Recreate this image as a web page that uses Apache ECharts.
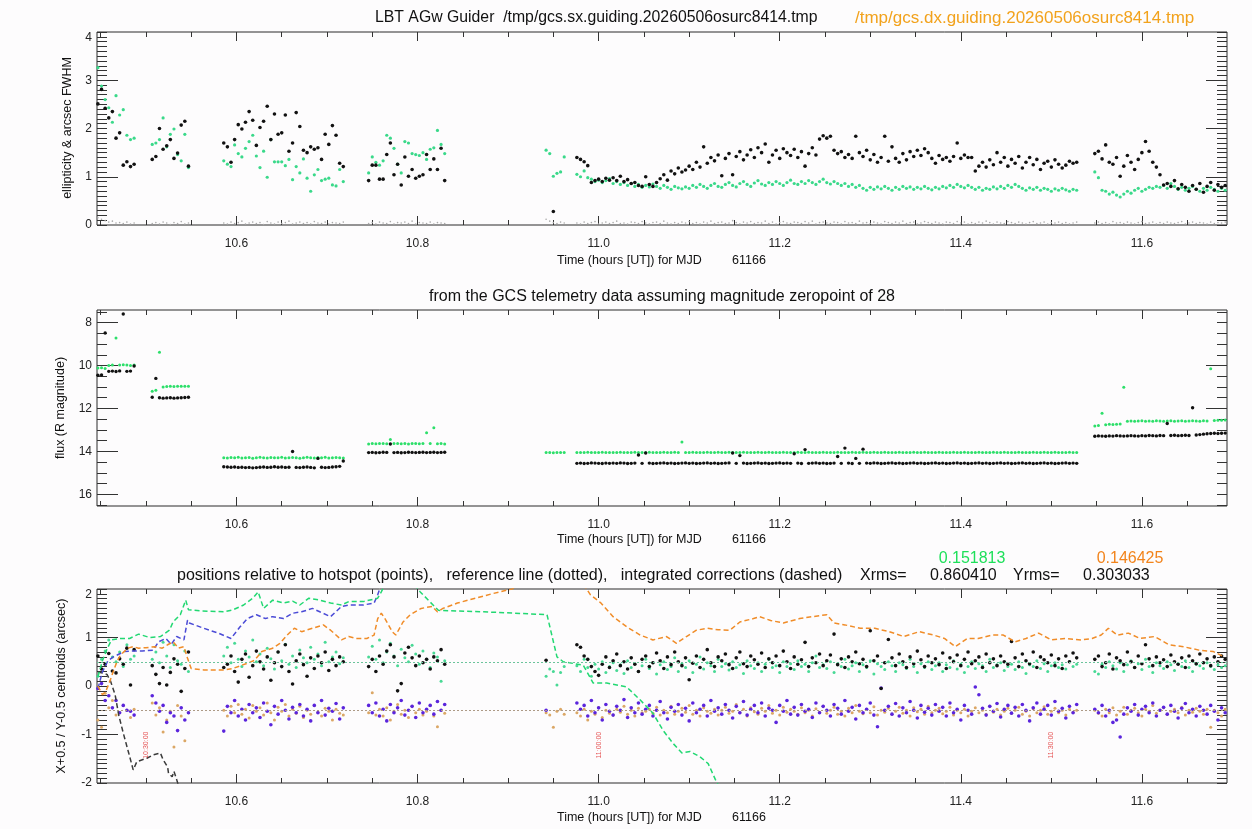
<!DOCTYPE html>
<html><head><meta charset="utf-8">
<script src="https://cdn.jsdelivr.net/npm/echarts@6/dist/echarts.min.js"></script>
<style>html,body{margin:0;padding:0;background:#fdfcfd}#c{width:1252px;height:829px}</style>
</head><body><div id="c"></div>
<script>
// ---------------- DATA ----------------
// frame times (hours UT), grouped by observing segment
const frameTimes = [
 [10.447,10.451,10.455,10.459,10.463,10.467,10.471,10.475,10.479,10.483,10.487],
 [10.507,10.511,10.515,10.519,10.523,10.527,10.531,10.535,10.539,10.543,10.547],
 [10.586,10.590,10.594,10.598,10.602,10.606,10.610,10.614,10.618,10.622,10.626,10.630,10.634,10.638,10.642,10.646,10.650,10.654,10.658,10.662,10.666,10.670,10.674,10.678,10.682,10.686,10.690,10.694,10.698,10.702,10.706,10.710,10.714,10.718],
 [10.746,10.750,10.754,10.758,10.762,10.766,10.770,10.774,10.778,10.782,10.786,10.790,10.794,10.798,10.802,10.806,10.810,10.814,10.818,10.822,10.826,10.830],
 [10.942,10.946,10.950,10.954,10.958,10.962],
 [10.976,10.980,10.984,10.988,10.992,10.996,11.000,11.004,11.008,11.012,11.016,11.020,11.024,11.028,11.032,11.036,11.040,11.044,11.048,11.052,
  11.056,11.060,11.064,11.068,11.072,11.076,11.080,11.084,11.088,11.092,11.096,11.100,11.104,11.108,11.112,11.116,11.120,11.124,11.128,11.132,
  11.136,11.140,11.144,11.148,11.152,11.156,11.160,11.164,11.168,11.172,11.176,11.180,11.184,11.188,11.192,11.196,11.200,11.204,11.208,11.212,
  11.216,11.220,11.224,11.228,11.232,11.236,11.240,11.244,11.248,11.252,11.256,11.260,11.264,11.268,11.272,11.276,11.280,11.284,11.288,11.292,
  11.296,11.300,11.304,11.308,11.312,11.316,11.320,11.324,11.328,11.332,11.336,11.340,11.344,11.348,11.352,11.356,11.360,11.364,11.368,11.372,
  11.376,11.380,11.384,11.388,11.392,11.396,11.400,11.404,11.408,11.412,11.416,11.420,11.424,11.428,11.432,11.436,11.440,11.444,11.448,11.452,
  11.456,11.460,11.464,11.468,11.472,11.476,11.480,11.484,11.488,11.492,11.496,11.500,11.504,11.508,11.512,11.516,11.520,11.524,11.528],
 [11.548,11.552,11.556,11.560,11.564,11.568,11.572,11.576,11.580,11.584,11.588,11.592,11.596,11.600,11.604,11.608,11.612,11.616,11.620,11.624,
  11.628,11.632,11.636,11.640,11.644,11.648,11.652,11.656,11.660,11.664,11.668,11.672,11.676,11.680,11.684,11.688,11.692]
];

// Panel 1: FWHM (arcsec) sx (black) and dx (green); ellipticity (small grey)
const fwhmSx = [
 [2.51,2.81,2.42,2.22,2.35,1.80,1.91,1.24,1.31,1.21,1.26],
 [1.36,1.42,2.00,1.57,1.64,1.77,1.38,1.49,2.07,2.15,1.22],
 [1.70,1.62,1.30,1.77,2.08,1.99,2.13,2.35,2.17,1.65,2.02,2.15,2.46,1.77,2.30,1.88,1.91,2.28,1.53,1.70,2.33,2.04,1.55,1.50,1.62,1.57,1.60,1.36,1.88,1.67,2.06,1.86,1.28,1.21],
 [0.92,1.24,1.24,0.95,0.95,1.46,1.70,1.04,1.26,0.83,1.41,1.01,1.15,0.97,1.01,1.04,1.46,1.15,1.37,1.15,1.59,0.92],
 [null,null,0.28,null,null,null],
 [1.40,1.36,1.31,1.23,0.88,0.92,0.95,0.90,0.97,0.93, 0.98,0.92,1.01,0.90,0.94,0.86,0.88,0.82,0.80,1.00,
  0.84,0.80,0.88,0.96,1.04,0.93,1.12,1.06,1.18,1.10, 1.14,1.22,1.15,1.30,1.20,1.62,1.28,1.40,1.33,1.45,
  1.02,1.38,1.48,1.04,1.42,1.52,1.35,1.45,1.56,1.40, 1.60,1.50,1.68,1.30,1.45,1.55,1.38,1.58,1.50,1.44,
  1.57,1.40,1.52,1.22,1.48,1.60,1.45,1.78,1.85,1.80, 1.84,1.55,1.48,1.52,1.40,1.46,1.38,1.84,1.50,1.42,
  1.55,1.35,1.46,1.30,1.40,1.84,1.32,1.62,1.38,1.30, 1.48,1.35,1.52,1.42,1.55,1.44,1.58,1.50,1.38,1.28,
  1.44,1.36,1.40,1.32,1.42,1.70,1.38,1.45,1.40,1.40, 1.12,1.22,1.30,1.20,1.35,1.25,1.50,1.30,1.40,1.22,
  1.36,1.28,1.42,1.18,1.30,1.40,1.25,1.36,1.15,1.28, 1.32,1.20,1.35,1.26,1.18,1.24,1.32,1.28,1.30],
 [1.48,1.53,1.37,1.66,1.30,1.26,1.40,1.01,1.22,1.44, 1.30,1.15,1.36,1.50,1.73,1.53,1.30,1.20,1.04,0.83,
  0.86,0.80,0.92,0.75,0.84,0.78,0.70,0.82,0.74,0.86, 0.68,0.80,0.88,0.72,0.84,0.78,0.82]
];
const fwhmDx = [
 [3.26,2.88,2.60,2.43,2.13,2.68,2.28,2.39,1.86,1.77,1.80],
 [1.67,1.70,1.77,2.22,1.62,1.88,1.99,1.46,1.33,1.88,1.19],
 [1.33,1.26,1.21,1.66,1.48,1.41,1.59,1.73,1.86,1.43,1.19,1.53,0.99,1.77,1.31,1.31,1.31,1.23,1.36,0.94,1.21,1.08,1.37,0.97,0.70,1.04,1.15,0.92,0.95,0.97,0.83,0.81,1.15,0.90],
 [1.08,1.41,1.30,1.24,1.33,1.86,1.80,1.59,1.26,1.08,1.73,1.70,1.48,1.46,1.44,1.50,1.36,1.57,1.60,1.96,1.67,1.48],
 [1.55,1.48,1.01,1.07,1.10,1.41],
 [1.05,1.00,1.12,0.98,0.95,0.90,0.93,0.88,0.92,0.96, 0.86,0.90,0.84,0.88,0.82,0.86,0.80,0.84,0.78,0.82,
  0.79,0.85,0.80,0.76,0.82,0.78,0.74,0.80,0.77,0.75, 0.79,0.76,0.82,0.78,0.84,0.80,0.76,0.82,0.86,0.80,
  0.78,0.84,0.88,0.82,0.79,0.86,0.90,0.84,0.80,0.87, 0.92,0.85,0.82,0.88,0.84,0.90,0.86,0.82,0.88,0.93,
  0.86,0.84,0.90,0.86,0.92,0.88,0.84,0.90,0.95,0.88, 0.85,0.90,0.86,0.82,0.86,0.80,0.84,0.78,0.82,0.76,
  0.72,0.78,0.74,0.79,0.75,0.80,0.76,0.72,0.78,0.74, 0.80,0.76,0.79,0.74,0.78,0.75,0.80,0.76,0.73,0.78,
  0.75,0.80,0.77,0.82,0.78,0.84,0.80,0.77,0.82,0.78, 0.74,0.78,0.72,0.76,0.74,0.79,0.75,0.80,0.76,0.82,
  0.78,0.84,0.80,0.76,0.72,0.77,0.74,0.78,0.72,0.76, 0.74,0.70,0.75,0.72,0.76,0.73,0.70,0.74,0.72],
 [1.10,0.98,0.72,0.70,0.64,0.68,0.62,0.58,0.64,0.70, 0.66,0.72,0.76,0.70,0.74,0.78,0.76,0.80,0.78,0.82,
  0.76,0.86,0.80,0.74,0.78,0.72,0.76,0.80,0.74,0.70, 0.76,0.72,0.78,0.74,0.70,0.76,0.72]
];
const ellipticity = [
 [0.15,0.12,0.09,0.06,0.08,0.04,0.05,0.03,0.06,0.02,0.04],
 [0.03,0.05,0.02,0.06,0.04,0.01,0.05,0.03,0.07,0.02,0.04],
 [0.04,0.02,0.06,0.03,0.05,0.08,0.02,0.04,0.06,0.03,0.05,0.01,0.07,0.04,0.02,0.06,0.03,0.05,0.08,0.02,0.04,0.06,0.03,0.05,0.02,0.07,0.04,0.03,0.06,0.02,0.05,0.04,0.03,0.06],
 [0.03,0.05,0.02,0.06,0.04,0.03,0.07,0.02,0.05,0.04,0.06,0.03,0.08,0.02,0.05,0.04,0.03,0.06,0.02,0.05,0.04,0.03],
 [0.12,0.08,0.05,0.03,0.06,0.04],
 [0.04,0.02,0.06,0.03,0.05,0.07,0.02,0.04,0.06,0.03, 0.05,0.08,0.03,0.04,0.02,0.06,0.05,0.03,0.07,0.04,
  0.02,0.05,0.06,0.03,0.08,0.04,0.02,0.05,0.03,0.06, 0.04,0.07,0.03,0.05,0.02,0.06,0.04,0.08,0.03,0.05,
  0.06,0.03,0.04,0.09,0.05,0.02,0.06,0.04,0.07,0.03, 0.05,0.04,0.08,0.03,0.06,0.02,0.05,0.07,0.04,0.03,
  0.06,0.05,0.03,0.07,0.04,0.08,0.02,0.05,0.06,0.04, 0.03,0.06,0.05,0.02,0.07,0.04,0.05,0.03,0.08,0.04,
  0.05,0.03,0.06,0.04,0.02,0.07,0.05,0.03,0.06,0.04, 0.08,0.03,0.05,0.06,0.02,0.04,0.07,0.05,0.03,0.06,
  0.04,0.02,0.06,0.05,0.03,0.07,0.04,0.06,0.02,0.05, 0.03,0.06,0.04,0.08,0.05,0.02,0.06,0.04,0.03,0.07,
  0.05,0.03,0.06,0.04,0.02,0.05,0.07,0.03,0.04,0.06, 0.02,0.05,0.04,0.06,0.03,0.05,0.02,0.04,0.06],
 [0.04,0.06,0.03,0.05,0.02,0.07,0.04,0.05,0.03,0.06, 0.04,0.02,0.05,0.07,0.03,0.04,0.06,0.02,0.05,0.03,
  0.06,0.04,0.03,0.05,0.07,0.02,0.04,0.06,0.03,0.05, 0.04,0.02,0.06,0.03,0.05,0.04,0.06]
];

// Panel 2: R magnitude, sx (black) and dx (green)
const magSx = [
 [10.45,10.44,8.48,10.27,10.26,10.28,10.25,7.60,10.27,10.26,10.02],
 [11.48,10.60,11.50,11.52,11.51,11.50,11.52,11.51,11.50,11.49,11.48],
 [14.72,14.73,14.74,14.73,14.75,14.74,14.76,14.75,14.77,14.76,14.74,14.73,14.75,14.74,14.72,14.74,14.73,14.75,14.74,14.01,14.75,14.76,14.74,14.73,14.75,14.77,14.33,14.74,14.76,14.75,14.73,14.72,14.70,14.45],
 [14.06,14.05,14.07,14.06,14.04,14.05,13.66,14.06,14.05,14.07,14.06,14.04,14.05,14.06,14.05,14.04,14.06,14.05,14.04,14.06,14.05,14.04],
 [null,null,null,null,null,null],
 [14.56,14.55,14.57,14.56,14.54,14.55,14.56,14.57,14.55,14.56, 14.55,14.56,14.54,14.55,14.57,14.56,14.55,14.17,14.56,14.08,
  14.55,14.57,14.56,14.55,14.54,14.56,14.55,14.57,14.56,14.55, 14.54,14.56,14.55,14.57,14.56,14.55,14.54,14.56,14.55,14.57,
  14.56,14.55,14.54,14.08,14.56,14.20,14.55,14.57,14.56,14.55, 14.54,14.56,14.55,14.57,14.56,14.55,14.54,14.56,14.55,14.56,
  14.11,14.55,14.57,13.92,14.56,14.55,14.54,14.56,14.55,14.57, 14.56,14.55,14.24,14.56,13.85,14.55,14.57,14.33,14.56,13.90,
  14.55,14.56,14.54,14.55,14.57,14.56,14.55,14.54,14.56,14.55, 14.57,14.56,14.55,14.54,14.56,14.55,14.57,14.56,14.55,14.54,
  14.56,14.55,14.57,14.56,14.55,14.54,14.56,14.55,14.57,14.56, 14.55,14.54,14.56,14.55,14.57,14.56,14.55,14.54,14.56,14.55,
  14.57,14.56,14.55,14.54,14.56,14.55,14.57,14.56,14.55,14.54, 14.56,14.55,14.57,14.56,14.55,14.54,14.56,14.55,14.56],
 [13.30,13.28,13.29,13.30,13.28,13.29,13.27,13.28,13.29,13.28, 13.27,13.28,13.29,13.27,13.28,13.26,13.27,13.28,13.26,13.27,
  12.70,13.26,13.25,13.27,13.26,13.25,13.26,11.97,13.24,13.22, 13.20,13.18,13.17,13.16,13.17,13.16,13.15]
];
const magDx = [
 [10.12,10.10,10.14,10.00,9.98,8.71,9.98,9.96,9.98,10.00,9.98],
 [11.20,11.15,9.38,11.00,10.98,10.97,10.98,10.96,10.97,10.96,10.97],
 [14.30,14.31,14.29,14.30,14.28,14.31,14.30,14.29,14.32,14.30,14.28,14.30,14.31,14.29,14.30,14.30,14.28,14.31,14.30,14.29,14.30,14.32,14.30,14.28,14.30,14.31,14.29,14.30,14.28,14.31,14.30,14.29,14.30,14.31],
 [13.66,13.64,13.65,13.63,13.64,13.65,13.45,13.64,13.63,13.65,13.64,13.66,13.63,13.64,13.65,13.64,13.13,13.64,12.90,13.65,13.64,13.66],
 [14.06,14.05,14.07,14.06,14.05,14.06],
 [14.06,14.05,14.06,14.04,14.05,14.06,14.05,14.04,14.06,14.05, 14.05,14.06,14.04,14.05,14.06,14.05,14.04,14.05,14.06,14.05,
  14.04,14.06,14.05,14.05,14.04,14.06,14.05,14.04,14.06,13.57, 14.05,14.06,14.04,14.05,14.06,14.05,14.04,14.06,14.05,14.04,
  14.06,14.05,14.04,14.05,14.06,14.05,14.04,14.06,14.05,14.05, 14.04,14.06,14.05,14.04,14.06,14.05,14.05,14.04,14.06,14.05,
  14.05,14.04,14.06,14.05,14.04,14.06,14.05,14.05,14.04,14.06, 14.05,14.06,14.04,14.05,14.06,14.05,14.04,14.05,14.06,14.04,
  14.06,14.05,14.04,14.06,14.05,14.04,14.05,14.06,14.05,14.04, 14.05,14.06,14.05,14.04,14.06,14.05,14.04,14.05,14.06,14.05,
  14.04,14.05,14.06,14.05,14.04,14.06,14.05,14.04,14.05,14.06, 14.05,14.04,14.06,14.05,14.05,14.04,14.06,14.05,14.04,14.06,
  14.05,14.06,14.04,14.05,14.06,14.05,14.04,14.06,14.05,14.04, 14.06,14.05,14.04,14.05,14.06,14.05,14.04,14.06,14.05],
 [12.82,12.80,12.23,12.76,12.74,12.75,12.74,12.73,11.01,12.60, 12.59,12.60,12.59,12.58,12.60,12.59,12.60,12.58,12.59,12.60,
  12.59,12.58,12.60,12.59,12.58,12.60,12.59,12.58,12.59,12.60, 12.58,12.59,10.15,12.56,12.55,12.55,12.54]
];

// Panel 3: centroid positions (arcsec): X+0.5 sx (black), X+0.5 dx (green), Y-0.5 sx (purple), Y-0.5 dx (tan)
const xSx = [
 [0.62,0.35,0.45,0.67,0.31,0.27,0.56,0.45,0.78,0.02,0.75],
 [0.42,0.24,0.05,0.38,0.02,0.28,0.56,0.45,-0.11,0.36,0.70],
 [0.38,0.45,0.62,0.30,0.08,0.55,0.66,0.18,0.42,0.72,0.50,0.35,0.60,0.12,0.48,0.70,0.40,0.85,0.30,0.04,0.52,0.66,0.44,0.20,0.58,0.36,0.62,0.48,0.70,0.32,0.55,0.42,0.60,0.50],
 [0.40,0.55,0.30,0.62,0.45,0.72,0.85,0.60,-0.10,0.05,0.68,0.80,0.58,0.42,0.62,0.48,0.55,0.35,0.60,0.52,0.75,0.45],
 [0.53,null,null,null,null,null],
 [0.85,0.80,0.62,0.55,0.40,0.30,0.22,0.45,0.60,0.38, 0.52,0.66,0.42,0.50,0.35,0.58,0.45,0.30,0.55,0.62,
  0.40,0.48,0.68,0.52,0.36,0.60,0.44,0.70,0.50,0.42, 0.58,0.13,0.47,0.62,0.38,0.55,0.75,0.48,0.40,0.60,
  0.52,0.66,0.44,0.36,0.58,0.70,0.46,0.40,0.62,0.54, 0.45,0.68,0.38,0.56,0.48,0.62,0.42,0.72,0.50,0.36,
  0.60,0.45,0.54,0.90,0.40,0.58,0.48,0.66,0.42,0.52, 0.64,1.07,0.44,0.56,0.38,0.60,0.50,0.70,0.46,0.55,
  0.40,1.14,0.52,0.62,-0.05,0.48,0.96,0.58,0.42,0.66, 0.50,0.38,0.60,0.46,0.72,0.54,0.40,0.62,0.48,0.56,
  0.44,0.68,0.36,0.58,0.50,0.64,0.42,0.55,0.70,0.46, 0.52,0.60,0.38,0.66,0.48,0.56,0.42,0.62,0.50,0.45,
  0.92,0.58,0.40,0.66,0.52,0.46,0.70,0.38,0.60,0.54, 0.48,0.64,0.42,0.56,0.36,0.62,0.50,0.68,0.58],
 [0.55,0.62,0.40,0.48,0.66,0.35,0.58,0.52,0.44,0.70, 0.50,0.38,0.62,0.46,0.85,0.56,0.42,0.60,0.48,0.54,
  0.40,0.64,0.50,0.45,0.58,0.38,0.62,0.52,0.46,0.66, 0.48,0.56,0.42,0.60,0.50,0.62,0.55]
];
const xDx = [
 [0.20,0.55,0.72,0.95,0.60,0.50,0.70,0.40,0.85,0.55,0.62],
 [0.55,0.70,0.48,0.90,0.62,0.38,0.85,0.52,0.45,0.72,0.30],
 [0.62,0.80,0.48,0.88,0.55,0.40,0.72,0.60,0.95,0.50,0.66,0.42,0.78,0.56,0.35,0.70,0.52,0.86,0.45,0.62,0.38,0.74,0.58,0.48,0.80,0.55,0.66,0.42,0.90,0.50,0.60,0.70,0.46,0.58],
 [0.60,0.82,0.55,0.95,0.48,0.70,0.88,0.62,0.42,0.76,0.58,0.50,0.84,0.66,0.45,0.72,0.55,0.38,0.68,0.60,0.10,0.52],
 [0.20,0.35,0.30,0.02,0.28,0.40],
 [0.42,0.30,0.55,0.38,0.20,0.45,0.35,0.50,0.28,0.40, 0.48,0.32,0.44,0.26,0.52,0.38,0.46,0.30,0.42,0.55,
  0.36,0.48,0.25,0.44,0.50,0.34,0.40,0.58,0.30,0.46, 0.38,0.52,0.28,0.45,0.60,0.35,0.48,0.42,0.30,0.55,
  0.40,0.46,0.33,0.50,0.38,0.44,0.26,0.52,0.42,0.36, 0.48,0.30,0.45,0.55,0.38,0.42,0.28,0.50,0.40,0.46,
  0.34,0.52,0.40,0.45,0.30,0.48,0.62,0.38,0.44,0.36, 0.50,0.28,0.46,0.40,0.55,0.35,0.42,0.48,0.30,0.44,
  0.38,0.52,0.25,0.46,0.40,0.34,0.50,0.42,0.30,0.48, 0.44,0.36,0.55,0.40,0.28,0.46,0.38,0.50,0.34,0.42,
  0.48,0.30,0.44,0.38,0.52,0.35,0.45,0.28,0.40,0.50, 0.36,0.46,0.42,0.30,0.55,0.38,0.44,0.48,0.32,0.40,
  0.45,0.34,0.50,0.38,0.26,0.44,0.40,0.52,0.36,0.46, 0.30,0.42,0.48,0.38,0.44,0.35,0.50,0.40,0.45],
 [0.30,0.25,0.45,0.38,0.50,0.42,0.35,0.48,0.30,0.44, 0.52,0.38,0.46,0.34,0.55,0.40,0.28,0.48,0.42,0.36,
  0.50,0.44,0.32,0.46,0.40,0.52,0.38,0.30,0.45,0.42, 0.36,0.48,0.40,0.34,0.44,0.38,0.42]
];
const ySx = [
 [-0.05,0.05,-0.30,-0.20,-0.45,-0.30,-0.55,-0.40,-0.50,-0.52,-0.60],
 [-0.20,-0.35,-0.52,-0.40,-0.75,-0.55,-0.62,-0.92,-0.45,-0.70,-0.55],
 [-0.93,-0.42,-0.55,-0.30,-0.62,-0.48,-0.70,-0.38,-0.55,-0.45,-0.65,-0.35,-0.52,-0.80,-0.42,-0.58,-0.30,-0.50,-0.68,-0.44,-0.55,-0.38,-0.62,-0.48,-0.72,-0.40,-0.55,-0.30,-0.60,-0.46,-0.52,-0.36,-0.68,-0.45],
 [-0.40,-0.55,-0.35,-0.62,-0.48,-0.72,-0.38,-0.55,-0.45,-0.30,-0.60,-0.50,-0.42,-0.65,-0.35,-0.55,-0.48,-0.40,-0.58,-0.32,-0.50,-0.38],
 [-0.50,null,null,null,null,null],
 [-0.35,-0.48,-0.40,-0.62,-0.30,-0.55,-0.45,-0.70,-0.38,-0.52, -0.60,-0.42,-0.50,-0.28,-0.65,-0.45,-0.55,-0.35,-0.58,-0.48,
  -0.40,-0.62,-0.50,-0.32,-0.55,-0.68,-0.44,-0.52,-0.38,-0.60, -0.46,-0.72,-0.35,-0.55,-0.48,-0.40,-0.62,-0.30,-0.52,-0.45,
  -0.58,-0.38,-0.50,-0.66,-0.42,-0.55,-0.32,-0.60,-0.48,-0.40, -0.55,-0.35,-0.62,-0.46,-0.50,-0.75,-0.40,-0.52,-0.30,-0.58,
  -0.44,-0.60,-0.38,-0.52,-0.48,-0.65,-0.35,-0.55,-0.42,-0.50, -0.62,-0.38,-0.46,-0.58,-0.30,-0.52,-0.44,-0.68,-0.40,-0.55,
  -0.48,-0.35,-0.60,-0.84,-0.04,-0.50,-0.42,-0.58,-0.36,-0.62, -0.45,-0.55,-0.32,-0.50,-0.66,-0.40,-0.54,-0.46,-0.60,-0.38,
  -0.52,-0.44,-0.62,-0.35,-0.55,-0.48,-0.70,-0.40,-0.50,-0.58, -0.02,-0.18,-0.46,-0.60,-0.42,-0.52,-0.36,-0.64,-0.48,-0.40,
  -0.56,-0.44,-0.62,-0.38,-0.50,-0.72,-0.45,-0.35,-0.58,-0.48, -0.40,-0.60,-0.32,-0.52,-0.46,-0.66,-0.42,-0.55,-0.38],
 [-0.48,-0.55,-0.40,-0.62,-0.50,-0.75,-0.70,-1.05,-0.58,-0.45, -0.52,-0.38,-0.60,-0.48,-0.42,-0.55,-0.35,-0.62,-0.50,-0.44,
  -0.58,-0.40,-0.52,-0.66,-0.46,-0.36,-0.55,-0.48,-0.62,-0.42, -0.50,-0.58,-0.40,-0.52,-0.70,-0.45,-0.55]
];
const yDx = [
 [-0.70,-0.85,-0.15,-0.45,-0.30,-0.60,-0.55,-0.40,-0.50,-0.65,-0.48],
 [-0.35,-0.60,-0.45,-0.95,-0.70,-0.52,-1.26,-0.40,-0.62,-1.13,-0.55],
 [-0.50,-0.62,-0.42,-0.55,-0.38,-0.58,-0.48,-0.66,-0.40,-0.52,-0.45,-0.60,-0.35,-0.55,-0.70,-0.44,-0.52,-0.38,-0.62,-0.48,-0.56,-0.42,-0.65,-0.50,-0.58,-0.40,-0.54,-0.62,-0.46,-0.52,-0.70,-0.48,-0.56,-0.60],
 [-0.55,-0.14,-0.60,-0.48,-0.62,-0.45,-0.70,-0.52,-0.38,-0.58,-0.50,-0.65,-0.42,-0.55,-0.48,-0.60,-0.52,-0.40,-0.62,-0.84,-0.50,-0.56],
 [-0.55,-0.60,-0.85,-0.52,-0.48,-0.58],
 [-0.55,-0.62,-0.48,-0.70,-0.52,-0.58,-0.45,-0.65,-0.50,-0.56, -0.60,-0.48,-0.54,-0.42,-0.58,-0.50,-0.62,-0.46,-0.55,-0.52,
  -0.48,-0.56,-0.44,-0.60,-0.50,-0.55,-0.42,-0.58,-0.52,-0.46, -0.54,-0.40,-0.58,-0.50,-0.62,-0.45,-0.52,-0.56,-0.48,-0.60,
  -0.50,-0.44,-0.56,-0.52,-0.38,-0.55,-0.48,-0.62,-0.45,-0.53, -0.58,-0.46,-0.52,-0.40,-0.56,-0.50,-0.60,-0.44,-0.54,-0.48,
  -0.52,-0.58,-0.45,-0.55,-0.50,-0.62,-0.47,-0.54,-0.42,-0.56, -0.50,-0.44,-0.58,-0.52,-0.62,-0.46,-0.55,-0.40,-0.52,-0.57,
  -0.48,-0.55,-0.43,-0.60,-0.50,-0.54,-0.46,-0.58,-0.52,-0.44, -0.56,-0.50,-0.62,-0.45,-0.53,-0.48,-0.58,-0.42,-0.55,-0.50,
  -0.46,-0.57,-0.52,-0.44,-0.60,-0.50,-0.55,-0.48,-0.62,-0.52, -0.45,-0.55,-0.50,-0.58,-0.42,-0.54,-0.48,-0.60,-0.52,-0.46,
  -0.56,-0.50,-0.44,-0.58,-0.52,-0.62,-0.47,-0.55,-0.50,-0.43, -0.58,-0.52,-0.46,-0.55,-0.50,-0.60,-0.48,-0.54,-0.50],
 [-0.50,-0.56,-0.62,-0.48,-0.55,-0.45,-0.60,-0.52,-0.44,-0.58, -0.50,-0.46,-0.55,-0.62,-0.48,-0.52,-0.40,-0.56,-0.50,-0.45,
  -0.58,-0.52,-0.48,-0.55,-0.44,-0.60,-0.50,-0.54,-0.46,-0.52, -0.58,-0.48,-0.85,-0.50,-0.55,-0.62,-0.48]
];

// Panel 3: integrated corrections (dashed), [time, arcsec]
const corrXdx = [[10.447,0.19],[10.452,0.52],[10.457,0.76],[10.462,0.95],[10.472,0.98],[10.482,0.98],[10.492,1.07],[10.504,1.00],[10.516,1.02],[10.526,1.15],[10.530,1.32],[10.538,1.47],[10.544,1.77],[10.547,1.57],[10.560,1.55],[10.586,1.53],[10.596,1.57],[10.608,1.67],[10.618,1.81],[10.624,1.94],[10.630,1.60],[10.640,1.77],[10.652,1.71],[10.662,1.75],[10.670,1.67],[10.680,1.81],[10.692,1.77],[10.704,1.71],[10.716,1.67],[10.724,1.74],[10.740,1.74],[10.756,1.81],[10.760,1.94],[10.768,2.25],[10.790,2.25],[10.803,1.94],[10.823,1.56],[10.873,1.53],[10.943,1.47],[10.954,0.60],[10.961,0.50],[10.983,0.43],[10.994,0.06],[11.009,0.06],[11.031,-0.02],[11.046,-0.29],[11.060,-0.56],[11.071,-0.91],[11.082,-1.18],[11.092,-1.38],[11.101,-1.35],[11.112,-1.46],[11.121,-1.60],[11.129,-1.93],[11.140,-2.30]];
const corrYsx = [[10.447,-0.05],[10.452,0.29],[10.458,0.52],[10.464,0.60],[10.476,0.71],[10.484,0.72],[10.496,0.72],[10.508,0.74],[10.514,0.91],[10.522,0.98],[10.528,0.86],[10.534,1.02],[10.542,0.95],[10.546,1.36],[10.548,1.30],[10.564,1.19],[10.580,1.09],[10.594,0.98],[10.604,1.22],[10.612,1.39],[10.622,1.47],[10.632,1.39],[10.640,1.43],[10.652,1.39],[10.662,1.50],[10.672,1.53],[10.684,1.60],[10.692,1.53],[10.704,1.43],[10.716,1.64],[10.724,1.67],[10.740,1.67],[10.752,1.71],[10.756,1.88],[10.762,2.20],[10.780,2.40]];
const corrYdx = [[10.447,0.00],[10.452,-0.18],[10.456,-0.10],[10.460,0.09],[10.464,0.30],[10.468,0.50],[10.472,0.64],[10.480,0.78],[10.486,0.81],[10.492,0.78],[10.500,0.79],[10.510,0.81],[10.518,0.78],[10.524,0.85],[10.530,0.91],[10.536,0.78],[10.542,0.81],[10.546,0.57],[10.550,0.36],[10.564,0.33],[10.586,0.33],[10.596,0.36],[10.612,0.47],[10.620,0.53],[10.628,0.71],[10.640,0.78],[10.648,0.88],[10.656,1.05],[10.664,1.19],[10.672,1.12],[10.684,1.19],[10.696,1.26],[10.704,1.15],[10.716,0.95],[10.724,1.02],[10.732,0.98],[10.744,0.98],[10.752,1.05],[10.756,1.39],[10.760,1.50],[10.764,1.39],[10.772,1.12],[10.776,1.05],[10.784,1.32],[10.792,1.47],[10.804,1.60],[10.816,1.64],[10.822,1.53],[10.828,1.60],[10.844,1.71],[10.864,1.81],[10.884,1.91],[10.904,2.00],[10.930,2.20],[10.970,2.30],[10.985,2.05],[10.991,1.88],[11.002,1.72],[11.016,1.43],[11.031,1.22],[11.046,1.05],[11.060,0.95],[11.075,1.02],[11.086,0.88],[11.097,1.02],[11.108,1.15],[11.120,1.19],[11.132,1.16],[11.145,1.15],[11.156,1.32],[11.171,1.39],[11.178,1.43],[11.190,1.35],[11.204,1.30],[11.222,1.39],[11.236,1.43],[11.252,1.47],[11.260,1.30],[11.272,1.26],[11.289,1.19],[11.305,1.19],[11.321,1.12],[11.337,1.02],[11.354,1.12],[11.370,1.05],[11.382,0.98],[11.394,0.81],[11.407,0.98],[11.419,0.98],[11.435,1.05],[11.447,1.05],[11.460,0.91],[11.472,0.98],[11.486,1.09],[11.500,0.95],[11.516,0.98],[11.533,0.95],[11.545,0.98],[11.555,1.05],[11.563,1.19],[11.573,1.05],[11.585,1.09],[11.598,0.98],[11.614,1.02],[11.630,0.85],[11.646,0.81],[11.663,0.74],[11.679,0.71],[11.691,0.60]];
const corrXsx = [[10.447,0.29],[10.452,0.27],[10.457,0.24],[10.461,0.10],[10.466,-0.18],[10.470,-0.60],[10.475,-0.97],[10.481,-1.38],[10.486,-1.73],[10.490,-1.56],[10.501,-1.49],[10.508,-1.42],[10.516,-1.38],[10.519,-1.52],[10.524,-1.67],[10.525,-1.80],[10.529,-1.87],[10.531,-1.76],[10.534,-1.93],[10.540,-2.30]];

const refLevels = [0.5, -0.5];                 // reference lines (dotted)
const timeMarks = [10.5, 11.0, 11.5];          // red clock-time markers
const timeMarkLabels = ['10:30:00','11:00:00','11:30:00'];
const TIME_MARK_Y = -1.22;

// axis ticks / labels
const xMinorTicks = [10.45,10.5,10.55,10.6,10.65,10.7,10.75,10.8,10.85,10.9,10.95,11.0,11.05,11.1,11.15,11.2,11.25,11.3,11.35,11.4,11.45,11.5,11.55,11.6,11.65];
const xMajorTicks = [10.6,10.8,11.0,11.2,11.4,11.6];
const y1Labels = [0,1,2,3,4];
const y2Labels = [8,10,12,14,16];
const y3Labels = [-2,-1,0,1,2];

// ---------------- CHART ----------------
const FONT = '"Liberation Sans", Arial, Helvetica, sans-serif';
const X_MIN = 10.446, X_MAX = 11.694;
const TICK = '#333';
function steps(a,b,s){const r=[];for(let v=a; v<=b+1e-9; v+=s) r.push(Math.round(v*1000)/1000);return r;}
function zip(times, vals){const out=[];for(let s=0;s<times.length;s++){const t=times[s], v=vals[s]||[];for(let i=0;i<t.length&&i<v.length;i++){if(v[i]!=null) out.push([t[i],v[i]]);}}return out;}

const PANELS = [
 {grid:{left:97,top:32,width:1130,height:193}, min:0, max:4, inverse:false, minor:steps(0,4,0.1), longL:[1,3], longR:[1,2,3], labels:y1Labels},
 {grid:{left:97,top:310,width:1130,height:196}, min:7.41, max:16.55, inverse:true, minor:steps(7.5,16.5,0.5), longL:y2Labels, longR:[10,12], labels:y2Labels},
 {grid:{left:97,top:589,width:1130,height:194}, min:-2, max:2, inverse:false, minor:steps(-2,2,0.1), longL:[-1,1], longR:[-1,1], labels:y3Labels}
];

const grid=[], xAxis=[], yAxis=[];
PANELS.forEach((p,gi)=>{
  grid.push(Object.assign({show:true, borderColor:'#2a2a2a', borderWidth:1, backgroundColor:'transparent', containLabel:false}, p.grid));
  const cx = {type:'value', gridIndex:gi, min:X_MIN, max:X_MAX, splitLine:{show:false}, axisLine:{show:false,onZero:false}};
  const tk = (len, vals)=>({show:true, inside:true, length:len, customValues:vals, lineStyle:{color:TICK,width:1}});
  xAxis.push(Object.assign({}, cx, {position:'bottom', axisTick:tk(5,xMinorTicks),
     axisLabel:{show:true, customValues:xMajorTicks, formatter:v=>Number(v).toFixed(1), margin:13, fontSize:12, color:'#222', fontFamily:FONT}}));
  xAxis.push(Object.assign({}, cx, {position:'bottom', axisTick:tk(9,xMajorTicks), axisLabel:{show:false}}));
  xAxis.push(Object.assign({}, cx, {position:'top', axisTick:tk(5,xMinorTicks), axisLabel:{show:false}}));
  xAxis.push(Object.assign({}, cx, {position:'top', axisTick:tk(9,xMajorTicks), axisLabel:{show:false}}));
  const cy = {type:'value', gridIndex:gi, min:p.min, max:p.max, inverse:p.inverse, splitLine:{show:false}, axisLine:{show:false,onZero:false}};
  yAxis.push(Object.assign({}, cy, {position:'left', axisTick:tk(10,p.minor),
     axisLabel:{show:true, customValues:p.labels, formatter:v=>String(Math.round(v)), margin:5, fontSize:12, color:'#222', fontFamily:FONT,
       verticalAlignMaxLabel: p.inverse ? 'middle' : 'top'}}));
  yAxis.push(Object.assign({}, cy, {position:'left', axisTick:tk(21,p.longL), axisLabel:{show:false}}));
  yAxis.push(Object.assign({}, cy, {position:'right', axisTick:tk(10,p.minor), axisLabel:{show:false}}));
  yAxis.push(Object.assign({}, cy, {position:'right', axisTick:tk(21,p.longR), axisLabel:{show:false}}));
});

const P = gi => ({xAxisIndex:4*gi, yAxisIndex:4*gi});
function scatter(name, gi, data, color, size, z){
  return Object.assign({type:'scatter', name, data, symbol:'circle', symbolSize:size, itemStyle:{color, opacity:1, borderWidth:0}, silent:true, z:z||2, clip:true}, P(gi));
}
function dashed(name, data, color){
  return Object.assign({type:'line', name, data, showSymbol:false, symbol:'none', lineStyle:{color, width:1.5, type:[5,3]}, silent:true, clip:true, z:4}, P(2));
}

const series = [
  scatter('ellipticity', 0, zip(frameTimes, ellipticity), '#a8a8a8', 1.6, 1),
  scatter('FWHM dx', 0, zip(frameTimes, fwhmDx), '#3ad98a', 3.2, 2),
  scatter('FWHM sx', 0, zip(frameTimes, fwhmSx), '#111111', 3.6, 3),
  scatter('mag dx', 1, zip(frameTimes, magDx), '#2ddf6a', 3.0, 2),
  scatter('mag sx', 1, zip(frameTimes, magSx), '#111111', 3.4, 3),
  Object.assign(scatter('Y dx', 2, zip(frameTimes, yDx), '#dba766', 3.0, 2), {
    markLine:{silent:true, symbol:['none','none'], label:{show:false}, animation:false,
      data:[{yAxis:refLevels[0], lineStyle:{color:'#6cc49c',type:[2,2],width:1}}, {yAxis:refLevels[1], lineStyle:{color:'#ad9a86',type:[2,2],width:1}}]}}),
  scatter('Y sx', 2, zip(frameTimes, ySx), '#5a24dc', 3.6, 3),
  scatter('X dx', 2, zip(frameTimes, xDx), '#48d995', 3.0, 2),
  scatter('X sx', 2, zip(frameTimes, xSx), '#111111', 3.6, 3),
  dashed('corr X sx', corrXsx, '#3a3a3a'),
  dashed('corr Y sx', corrYsx, '#4b4bd6'),
  dashed('corr Y dx', corrYdx, '#f08c28'),
  dashed('corr X dx', corrXdx, '#22d872'),
  Object.assign({type:'scatter', name:'time marks', data:timeMarks.map((t,i)=>({value:[t,TIME_MARK_Y], name:timeMarkLabels[i]})),
    symbolSize:0, silent:true, z:5,
    label:{show:true, position:'inside', rotate:90, formatter:p=>p.name, fontSize:7, color:'#e02828', fontFamily:FONT}}, P(2))
];

// free text (titles, axis names)
const T = (x,y,text,opt)=>Object.assign({type:'text', x, y, silent:true, z:10,
  style:{text, fill:(opt&&opt.fill)||'#111', font:((opt&&opt.size)||16)+'px '+FONT, textAlign:(opt&&opt.align)||'left', verticalAlign:'middle'}},
  opt&&opt.rot ? {rotation:Math.PI/2} : {});
const graphic = [
  T(375,18,'LBT AGw Guider  /tmp/gcs.sx.guiding.20260506osurc8414.tmp',{size:15.8}),
  T(855,18,'/tmp/gcs.dx.guiding.20260506osurc8414.tmp',{fill:'#f2a21c',size:17}),
  T(557,261,'Time (hours [UT]) for MJD',{size:12.5}), T(732,261,'61166',{size:12.5}),
  T(662,297,'from the GCS telemetry data assuming magnitude zeropoint of 28',{align:'center'}),
  T(557,540,'Time (hours [UT]) for MJD',{size:12.5}), T(732,540,'61166',{size:12.5}),
  T(972,559,'0.151813',{fill:'#1ee05a',align:'center'}),
  T(1130,559,'0.146425',{fill:'#f2841c',align:'center'}),
  T(177,576,'positions relative to hotspot (points),   reference line (dotted),   integrated corrections (dashed)'),
  T(860,576,'Xrms='), T(930,576,'0.860410'), T(1013,576,'Yrms='), T(1083,576,'0.303033'),
  T(557,818,'Time (hours [UT]) for MJD',{size:12.5}), T(732,818,'61166',{size:12.5}),
  T(68,128,'ellipticity & arcsec FWHM',{size:12.5,align:'center',rot:true}),
  T(61,408,'flux (R magnitude)',{size:12.5,align:'center',rot:true}),
  T(62,686,'X+0.5 / Y-0.5 centroids (arcsec)',{size:12.5,align:'center',rot:true})
];

const chart = echarts.init(document.getElementById('c'), null, {renderer:'canvas', width:1252, height:829});
chart.setOption({backgroundColor:'#fdfcfd', animation:false, textStyle:{fontFamily:FONT}, grid, xAxis, yAxis, series, graphic});
</script></body></html>
